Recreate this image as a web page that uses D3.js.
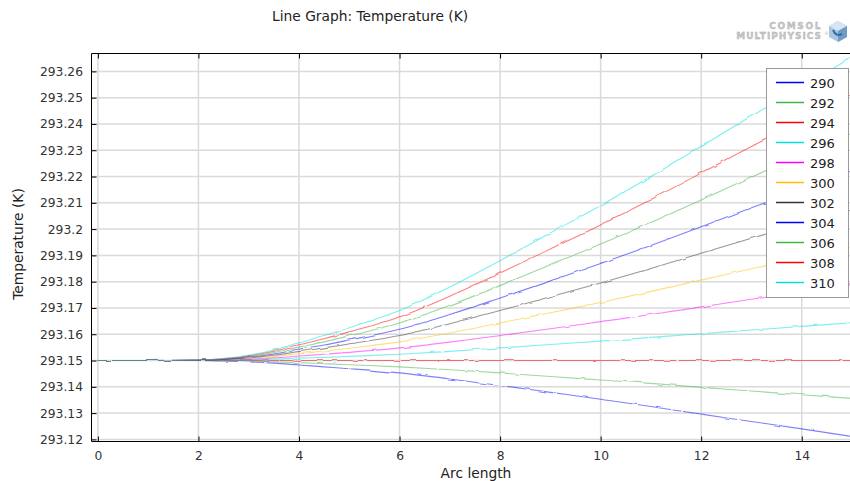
<!DOCTYPE html>
<html>
<head>
<meta charset="utf-8">
<script src="https://cdn.jsdelivr.net/npm/d3@7"></script>
<style>
  html, body { margin: 0; padding: 0; background: #fff; }
  svg { display: block; font-family: "DejaVu Sans", Verdana, sans-serif; }
</style>
</head>
<body>
<svg id="chart" width="850" height="481"></svg>
<script>
// Arc length sample positions
const arcLength = [0, 1, 2, 2.5, 3, 3.5, 4, 4.5, 5, 6, 7, 8, 9, 10, 11, 12, 13, 14, 15];

// Parameter values shown in the legend
const paramLabels = ["290", "292", "294", "296", "298", "300", "302", "304", "306", "308", "310"];
const paramColors = ["#0000ff", "#3fb43f", "#ff0000", "#00e0e0", "#ff00ff", "#ffbf00", "#333333", "#0000ff", "#3fb43f", "#ff0000", "#00e0e0"];

// Temperature (K) along the arc for each parameter value
const t290 = [293.1500, 293.1500, 293.1500, 293.1498, 293.1495, 293.1490, 293.1483, 293.1476, 293.1469, 293.1453, 293.1430, 293.1405, 293.1379, 293.1353, 293.1325, 293.1296, 293.1268, 293.1240, 293.1211];
const t292 = [293.1500, 293.1500, 293.1500, 293.1499, 293.1498, 293.1495, 293.1492, 293.1488, 293.1484, 293.1476, 293.1465, 293.1453, 293.1439, 293.1426, 293.1413, 293.1398, 293.1384, 293.1370, 293.1356];
const t294 = [293.1500, 293.1500, 293.1500, 293.1500, 293.1500, 293.1500, 293.1500, 293.1500, 293.1500, 293.1500, 293.1500, 293.1500, 293.1500, 293.1500, 293.1500, 293.1500, 293.1500, 293.1500, 293.1500];
const t296 = [293.1500, 293.1500, 293.1500, 293.1501, 293.1503, 293.1505, 293.1509, 293.1512, 293.1516, 293.1524, 293.1535, 293.1548, 293.1561, 293.1574, 293.1588, 293.1602, 293.1616, 293.1630, 293.1644];
const t298 = [293.1500, 293.1500, 293.1501, 293.1502, 293.1505, 293.1510, 293.1517, 293.1524, 293.1531, 293.1548, 293.1570, 293.1595, 293.1621, 293.1648, 293.1675, 293.1704, 293.1733, 293.1760, 293.1789];
const t300 = [293.1500, 293.1500, 293.1501, 293.1503, 293.1508, 293.1515, 293.1526, 293.1536, 293.1547, 293.1571, 293.1605, 293.1643, 293.1682, 293.1721, 293.1763, 293.1806, 293.1849, 293.1890, 293.1933];
const t302 = [293.1500, 293.1500, 293.1501, 293.1504, 293.1510, 293.1520, 293.1534, 293.1548, 293.1563, 293.1595, 293.1640, 293.1690, 293.1743, 293.1795, 293.1850, 293.1908, 293.1965, 293.2020, 293.2078];
const t304 = [293.1500, 293.1500, 293.1501, 293.1505, 293.1513, 293.1525, 293.1543, 293.1559, 293.1578, 293.1619, 293.1675, 293.1738, 293.1803, 293.1869, 293.1938, 293.2009, 293.2081, 293.2150, 293.2222];
const t306 = [293.1500, 293.1500, 293.1502, 293.1506, 293.1515, 293.1530, 293.1551, 293.1571, 293.1594, 293.1643, 293.1710, 293.1785, 293.1864, 293.1943, 293.2025, 293.2111, 293.2198, 293.2280, 293.2366];
const t308 = [293.1500, 293.1500, 293.1502, 293.1507, 293.1518, 293.1535, 293.1560, 293.1583, 293.1609, 293.1666, 293.1745, 293.1833, 293.1924, 293.2016, 293.2113, 293.2213, 293.2314, 293.2410, 293.2511];
const t310 = [293.1500, 293.1500, 293.1502, 293.1508, 293.1520, 293.1540, 293.1568, 293.1595, 293.1625, 293.1690, 293.1780, 293.1880, 293.1985, 293.2090, 293.2200, 293.2315, 293.2430, 293.2540, 293.2655];

const seriesValues = [t290, t292, t294, t296, t298, t300, t302, t304, t306, t308, t310];

const xTicks = [0, 2, 4, 6, 8, 10, 12, 14];
const yTicks = [293.12, 293.13, 293.14, 293.15, 293.16, 293.17, 293.18, 293.19, 293.20, 293.21, 293.22, 293.23, 293.24, 293.25, 293.26];

const svg = d3.select("#chart");
const plotLeft = 91.5, plotRight = 850, plotTop = 53.5, plotBottom = 441.5;

const x = d3.scaleLinear().domain([-0.127, 14.96]).range([plotLeft, plotRight]);
const y = d3.scaleLinear().domain([293.1192, 293.2668]).range([plotBottom, plotTop]);

const defs = svg.append("defs");
// Slight mesh-noise wobble on the solution curves
const wobble = defs.append("filter").attr("id", "wobble")
  .attr("x", "-2%").attr("y", "-5%").attr("width", "104%").attr("height", "110%");
wobble.append("feTurbulence").attr("type", "fractalNoise")
  .attr("baseFrequency", "0.09 0.09").attr("numOctaves", 1).attr("seed", 3).attr("result", "noise");
wobble.append("feDisplacementMap").attr("in", "SourceGraphic").attr("in2", "noise")
  .attr("scale", 3).attr("xChannelSelector", "R").attr("yChannelSelector", "G").attr("result", "wob");
wobble.append("feGaussianBlur").attr("in", "wob").attr("stdDeviation", 0.3);

// Title
svg.append("text")
  .attr("x", 272).attr("y", 21)
  .attr("font-size", 13.8).attr("fill", "#222")
  .text("Line Graph: Temperature (K)");

// Logo
const logo = svg.append("g").attr("fill", "#c8c8c8").attr("stroke", "#a8a8a8").attr("stroke-width", 0.3);
logo.append("text").attr("x", 822).attr("y", 29).attr("text-anchor", "end")
  .attr("font-size", 9).attr("letter-spacing", 1.6).attr("font-weight", "bold").text("COMSOL");
logo.append("text").attr("x", 822).attr("y", 39).attr("text-anchor", "end")
  .attr("font-size", 9).attr("letter-spacing", 1.0).attr("font-weight", "bold").text("MULTIPHYSICS");
logo.append("text").attr("x", 824).attr("y", 35).attr("font-size", 5).attr("stroke", "none").text("®");
const cube = svg.append("g").attr("transform", "translate(838,31)");
cube.append("path").attr("d", "M0,-10 L9,-5 L9,6 L0,11 L-9,6 L-9,-5 Z").attr("fill", "#a9c6de");
cube.append("path").attr("d", "M0,-10 L9,-5 L0,0 L-9,-5 Z").attr("fill", "#d6e5f1");
cube.append("path").attr("d", "M0,0 L9,-5 L9,6 L0,11 Z").attr("fill", "#6f9cc6");
cube.append("path").attr("d", "M-5,-1 Q-2,6 4,3").attr("fill", "none").attr("stroke", "#2f6fa8").attr("stroke-width", 2);

// Grid
const grid = svg.append("g").attr("stroke", "#dadada").attr("stroke-width", 1.5);
grid.selectAll("line.gx").data(xTicks).join("line")
  .attr("x1", d => x(d)).attr("x2", d => x(d))
  .attr("y1", plotTop).attr("y2", plotBottom);
grid.selectAll("line.gy").data(yTicks).join("line")
  .attr("x1", plotLeft).attr("x2", plotRight)
  .attr("y1", d => y(d)).attr("y2", d => y(d));

// Lines
defs.append("clipPath").attr("id", "plotClip")
  .append("rect").attr("x", plotLeft).attr("y", plotTop)
  .attr("width", plotRight - plotLeft).attr("height", plotBottom - plotTop);

const line = d3.line()
  .x((d, i) => x(arcLength[i]))
  .y(d => y(d))
  .curve(d3.curveMonotoneX);

svg.append("g").attr("clip-path", "url(#plotClip)")
  .append("g").attr("filter", "url(#wobble)")
  .selectAll("path").data(seriesValues).join("path")
  .attr("d", line)
  .attr("fill", "none")
  .attr("stroke", (d, i) => paramColors[i])
  .attr("stroke-width", 1.1)
  .attr("stroke-opacity", 0.5);

// Axes
const fmtY = d => String(+d.toFixed(2));
const yAxis = d3.axisLeft(y).tickValues(yTicks).tickSize(-5).tickPadding(8.5).tickFormat(fmtY);
const yG = svg.append("g").attr("transform", `translate(${plotLeft},0)`).call(yAxis);
const xAxis = d3.axisBottom(x).tickValues(xTicks).tickSize(-5).tickPadding(10).tickFormat(d3.format("d"));
const xG = svg.append("g").attr("transform", `translate(0,${plotBottom})`).call(xAxis);
const xTop = d3.axisTop(x).tickValues(xTicks).tickSize(-5).tickFormat("");
const xTG = svg.append("g").attr("transform", `translate(0,${plotTop})`).call(xTop);

[yG, xG, xTG].forEach(g => {
  g.select(".domain").remove();
  g.selectAll(".tick line").attr("stroke", "#000");
  g.selectAll(".tick text").attr("font-family", "DejaVu Sans, sans-serif")
    .attr("font-size", 12.3).attr("fill", "#333");
});

// Frame
svg.append("path")
  .attr("d", `M${plotRight},${plotTop} H${plotLeft} V${plotBottom} H${plotRight}`)
  .attr("fill", "none").attr("stroke", "#000").attr("stroke-width", 1);

// Axis titles
svg.append("text")
  .attr("x", 476).attr("y", 478).attr("text-anchor", "middle")
  .attr("font-size", 13.8).attr("fill", "#222").text("Arc length");
svg.append("text")
  .attr("transform", "translate(23,244) rotate(-90)").attr("text-anchor", "middle")
  .attr("font-size", 13.8).attr("fill", "#222").text("Temperature (K)");

// Legend
const lg = svg.append("g").attr("transform", "translate(766,68)");
lg.append("rect").attr("x", 0.5).attr("y", 0.5).attr("width", 82).attr("height", 229)
  .attr("fill", "#fff").attr("stroke", "#999").attr("stroke-width", 1);
const items = lg.selectAll("g.item").data(paramLabels).join("g")
  .attr("transform", (d, i) => `translate(0,${14.5 + i * 20})`);
items.append("line").attr("x1", 10).attr("x2", 38)
  .attr("stroke", (d, i) => paramColors[i]).attr("stroke-width", 1.5);
items.append("text").attr("x", 44).attr("y", 5)
  .attr("font-size", 13).attr("fill", "#222").text(d => d);
</script>
</body>
</html>
